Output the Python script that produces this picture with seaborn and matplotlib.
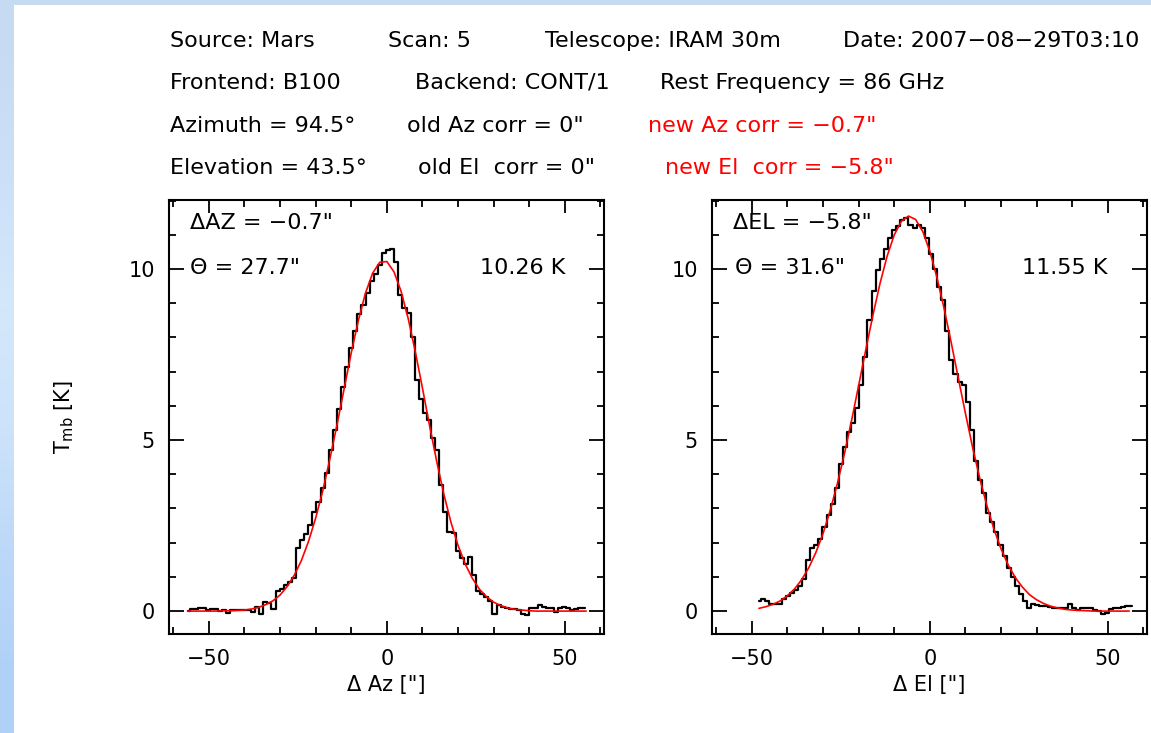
import numpy as np
import pandas as pd
import matplotlib
matplotlib.use("Agg")
import matplotlib.pyplot as plt
from matplotlib.patches import Rectangle
from matplotlib.ticker import MultipleLocator, FuncFormatter
import seaborn as sns

# ---------------- data ----------------
# Azimuth scan: sampling grid start / step (arcsec) and measured T_mb [K]
AZ_START, AZ_STEP = -56.0, 1.15
az_tmb = [0.00, 0.05, 0.06, 0.10, 0.10, 0.03, 0.05, 0.05, 0.00, 0.03,
          -0.07, 0.03, 0.03, 0.03, 0.03, 0.03, -0.03, 0.13, -0.09, 0.27,
          0.25, 0.05, 0.60, 0.66, 0.76, 0.85, 0.98, 1.85, 2.08, 2.25,
          2.51, 2.90, 3.20, 3.60, 4.05, 4.70, 5.30, 5.90, 6.55, 7.15,
          7.70, 8.20, 8.70, 8.95, 9.30, 9.65, 9.85, 10.12, 10.48, 10.56,
          10.60, 10.20, 9.25, 8.85, 8.72, 8.00, 6.75, 6.20, 5.80, 5.58,
          5.05, 4.70, 3.70, 2.90, 2.32, 2.28, 1.75, 1.55, 1.39, 1.59,
          1.05, 0.58, 0.50, 0.40, 0.30, -0.08, 0.18, 0.13, 0.10, 0.07,
          0.05, 0.02, -0.08, -0.12, 0.08, 0.10, 0.18, 0.13, 0.08, 0.08,
          -0.04, 0.08, 0.13, 0.08, 0.02, 0.06, 0.08, 0.08]

# Azimuth fit curve (red), sampled every 2 arcsec from -56 to 56
AZ_FIT_START, FIT_STEP = -56.0, 2.0
az_fit = [0.00, 0.00, 0.00, 0.00, 0.00, 0.01, 0.01, 0.02, 0.03, 0.06,
          0.11, 0.19, 0.30, 0.47, 0.72, 1.05, 1.48, 2.04, 2.72, 3.52,
          4.45, 5.45, 6.50, 7.55, 8.50, 9.30, 9.88, 10.20, 10.22, 9.92,
          9.35, 8.55, 7.58, 6.52, 5.42, 4.38, 3.42, 2.60, 1.92, 1.38,
          0.96, 0.64, 0.42, 0.26, 0.16, 0.09, 0.05, 0.03, 0.01, 0.00,
          0.00, 0.00, 0.00, 0.00, 0.00, 0.00, 0.00]

# Elevation scan
EL_START, EL_STEP = -48.0, 1.15
el_tmb = [0.29, 0.34, 0.30, 0.21, 0.20, 0.22, 0.34, 0.44, 0.54, 0.62,
          0.73, 0.95, 1.50, 1.83, 1.92, 2.10, 2.45, 2.80, 3.12, 3.60,
          4.30, 4.80, 5.25, 5.50, 5.95, 6.60, 7.44, 8.50, 9.35, 9.97,
          10.30, 10.60, 10.90, 11.14, 11.26, 11.43, 11.48, 11.30, 11.19, 11.29,
          11.20, 10.90, 10.45, 10.00, 9.48, 9.10, 8.20, 7.35, 6.94, 6.70,
          6.60, 6.10, 5.30, 4.40, 3.84, 3.44, 2.88, 2.60, 2.30, 1.93,
          1.62, 1.25, 1.00, 0.72, 0.50, 0.30, 0.10, 0.22, 0.18, 0.15,
          0.15, 0.13, 0.10, 0.08, 0.08, 0.08, 0.20, 0.08, 0.03, 0.10,
          0.09, 0.08, 0.03, 0.01, -0.08, -0.06, 0.05, 0.08, 0.08, 0.13,
          0.15, 0.15]

EL_FIT_START = -48.0
el_fit = [0.08, 0.13, 0.20, 0.30, 0.45, 0.65, 0.92, 1.27, 1.72, 2.27,
          2.94, 3.72, 4.60, 5.57, 6.60, 7.64, 8.65, 9.58, 10.38, 11.00,
          11.40, 11.55, 11.45, 11.10, 10.52, 9.75, 8.85, 7.85, 6.81, 5.78,
          4.79, 3.89, 3.09, 2.40, 1.82, 1.35, 0.98, 0.70, 0.48, 0.33,
          0.22, 0.14, 0.09, 0.05, 0.03, 0.02, 0.01, 0.00, 0.00, 0.00,
          0.00, 0.00, 0.00]

header_lines = [
    [("Source: Mars", 170, "black"), ("Scan: 5", 388, "black"),
     ("Telescope: IRAM 30m", 545, "black"), ("Date: 2007\u221208\u221229T03:10", 843, "black")],
    [("Frontend: B100", 170, "black"), ("Backend: CONT/1", 415, "black"),
     ("Rest Frequency = 86 GHz", 660, "black")],
    [("Azimuth = 94.5\u00b0", 170, "black"), ("old Az corr = 0\"", 407, "black"),
     ("new Az corr = \u22120.7\"", 648, "red")],
    [("Elevation = 43.5\u00b0", 170, "black"), ("old El  corr = 0\"", 418, "black"),
     ("new El  corr = \u22125.8\"", 665, "red")],
]
header_baselines = [47, 89, 132, 174]

panel_labels = {
    "az": ("\u0394AZ = \u22120.7\"", "\u0398 = 27.7\"", "10.26 K", "\u0394 Az [\"]"),
    "el": ("\u0394EL = \u22125.8\"", "\u0398 = 31.6\"", "11.55 K", "\u0394 El [\"]"),
}

# ---------------- figure ----------------
sns.set_theme(style="ticks")
plt.rcParams["font.family"] = ["DejaVu Sans"]
plt.rcParams["mathtext.fontset"] = "dejavusans"
plt.rcParams["text.color"] = "black"
plt.rcParams["axes.labelcolor"] = "black"
plt.rcParams["xtick.color"] = "black"
plt.rcParams["ytick.color"] = "black"

W, H = 1151, 733
fig = plt.figure(figsize=(W / 100, H / 100), dpi=100)

# light-blue gradient frame (left and top)
bg = fig.add_axes([0, 0, 1, 1], zorder=-5)
grad = np.array([[0.78, 0.86, 0.95], [0.80, 0.88, 0.97], [0.83, 0.91, 0.985],
                 [0.80, 0.89, 0.98], [0.74, 0.85, 0.975], [0.69, 0.82, 0.97]])
bg.imshow(grad[:, None, :], extent=[0, 1, 0, 1], aspect="auto",
          interpolation="bilinear", origin="upper")
bg.add_patch(Rectangle((14 / W, 0), 1, 1 - 5 / H, color="white", lw=0))
bg.set_xlim(0, 1)
bg.set_ylim(0, 1)
bg.axis("off")


def fx(px):
    return px / W


def fy(py):
    return 1 - py / H


FS = 16
for line, yb in zip(header_lines, header_baselines):
    for txt, xp, col in line:
        fig.text(fx(xp), fy(yb), txt, fontsize=FS, color=col, va="baseline", ha="left")

ax_w = 435 / W
ax_h = 434 / H
ax_b = (H - 634) / H
ax_az = fig.add_axes([169 / W, ax_b, ax_w, ax_h])
ax_el = fig.add_axes([712 / W, ax_b, ax_w, ax_h])

az_df = pd.DataFrame({"offset": np.round(AZ_START + AZ_STEP * np.arange(len(az_tmb)), 3),
                      "tmb": az_tmb})
az_fit_df = pd.DataFrame({"offset": AZ_FIT_START + FIT_STEP * np.arange(len(az_fit)),
                          "tmb": az_fit})
el_df = pd.DataFrame({"offset": np.round(EL_START + EL_STEP * np.arange(len(el_tmb)), 3),
                      "tmb": el_tmb})
el_fit_df = pd.DataFrame({"offset": EL_FIT_START + FIT_STEP * np.arange(len(el_fit)),
                          "tmb": el_fit})

for ax, df, fit_df, key in [(ax_az, az_df, az_fit_df, "az"), (ax_el, el_df, el_fit_df, "el")]:
    sns.lineplot(data=df, x="offset", y="tmb", ax=ax, color="black", lw=1.6,
                 drawstyle="steps-mid", estimator=None, zorder=2)
    sns.lineplot(data=fit_df, x="offset", y="tmb", ax=ax, color="red", lw=1.2,
                 estimator=None, zorder=3)
    ax.set_xlim(-61.2, 61.0)
    ax.set_ylim(-0.67, 12.02)
    ax.xaxis.set_major_locator(MultipleLocator(50))
    ax.xaxis.set_minor_locator(MultipleLocator(10))
    ax.yaxis.set_major_locator(MultipleLocator(5))
    ax.yaxis.set_minor_locator(MultipleLocator(1))
    ax.tick_params(which="both", direction="in", top=True, right=True,
                   labelsize=15, colors="black", width=1.3)
    ax.tick_params(axis="x", which="major", length=9.5, pad=11)
    ax.tick_params(axis="y", which="major", length=10.5, pad=10)
    ax.tick_params(which="minor", length=4.8)
    ax.xaxis.set_major_formatter(FuncFormatter(
        lambda v, p: f"{int(v)}".replace("-", "\u2212")))
    ax.yaxis.set_major_formatter(FuncFormatter(lambda v, p: f"{int(v)}"))
    for sp in ax.spines.values():
        sp.set_linewidth(1.5)
        sp.set_color("black")
    ax.set_facecolor("white")
    xl = panel_labels[key][3]
    ax.set_xlabel(xl, fontsize=15, labelpad=4, color="black")
    ax.set_ylabel("")

ax_az.set_ylabel(r"T$_{\rm mb}$ [K]", fontsize=15, labelpad=38, color="black")

# in-panel annotations
fig.text(fx(190), fy(229), panel_labels["az"][0], fontsize=FS, va="baseline", color="black")
fig.text(fx(190), fy(274), panel_labels["az"][1], fontsize=FS, va="baseline", color="black")
fig.text(fx(565), fy(274), panel_labels["az"][2], fontsize=FS, va="baseline", ha="right", color="black")
fig.text(fx(733), fy(229), panel_labels["el"][0], fontsize=FS, va="baseline", color="black")
fig.text(fx(735), fy(274), panel_labels["el"][1], fontsize=FS, va="baseline", color="black")
fig.text(fx(1107), fy(274), panel_labels["el"][2], fontsize=FS, va="baseline", ha="right", color="black")

fig.savefig("out.png", dpi=100, facecolor="white")
